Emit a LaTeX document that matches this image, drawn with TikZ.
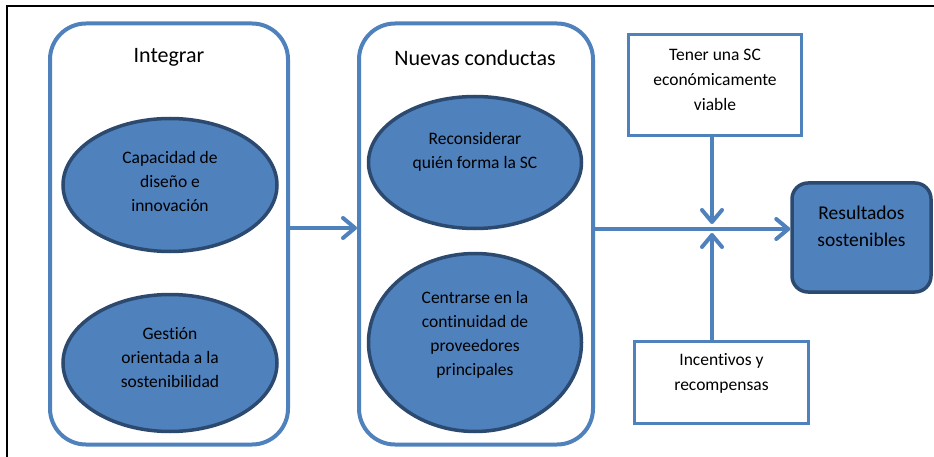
\documentclass[tikz,border=0pt]{standalone}
\usepackage{fontspec}
\setmainfont{Carlito}[Ligatures=NoCommon]
\usetikzlibrary{arrows.meta,shapes.geometric}
\definecolor{accent}{HTML}{4F81BD}
\definecolor{navy}{HTML}{2C4A70}
\begin{document}
\begin{tikzpicture}[
    x=1pt, y=-1pt,
    grp/.style = {draw=accent, line width=4pt, rounded corners=36pt, inner sep=0pt},
    ell/.style = {ellipse, draw=navy, fill=accent, line width=3.5pt, align=center,
                  inner sep=0pt, font=\fontsize{17.5}{24}\selectfont},
    box/.style = {draw=accent, line width=3.5pt, align=center, inner sep=0pt,
                  font=\fontsize{17.5}{25}\selectfont},
    ttl/.style = {font=\fontsize{22}{26}\selectfont},
    flow/.style = {draw=accent, line width=4pt, line cap=round,
                   -{Straight Barb[length=12pt,width=20pt,round]}},
  ]
  \useasboundingbox (0,0) rectangle (934,457);
  \draw[line width=1.5pt] (7,457) -- (7,6) -- (934,6);

  \node[grp, minimum width=238pt, minimum height=421pt] (integ) at (169,234) {};
  \node[ttl] (integ-t) at (169,57) {Integrar};
  \node[ell, minimum width=214pt, minimum height=133pt, text depth=8pt] (cap) at (170,185)
    {Capacidad de\\diseño e\\innovación};
  \node[ell, minimum width=214pt, minimum height=137pt, text depth=12pt] (ges) at (170,363)
    {Gestión\\orientada a la\\sostenibilidad};

  \node[grp, minimum width=234pt, minimum height=421pt] (nuevas) at (476,234) {};
  \node[ttl] (nuevas-t) at (475,58) {Nuevas conductas};
  \node[ell, minimum width=213pt, minimum height=132pt, text depth=25pt] (rec) at (475,162.5)
    {Reconsiderar\\quién forma la SC};
  \node[ell, minimum width=213pt, minimum height=178pt, text depth=18pt] (cen) at (475,342.5)
    {Centrarse en la\\continuidad de\\proveedores\\principales};

  \node[box, minimum width=173pt, minimum height=101pt, text depth=10pt] (viable) at (715,85)
    {Tener una SC\\económicamente\\viable};
  \node[box, minimum width=174pt, minimum height=82pt, text depth=22pt] (incent) at (721.5,382.5)
    {Incentivos y\\recompensas};
  \node[draw=navy, fill=accent, line width=3.5pt, rounded corners=16pt, inner sep=0pt,
        align=center, font=\fontsize{19.5}{27}\selectfont,
        minimum width=139pt, minimum height=109pt, text depth=23pt] (res) at (861.5,237.5)
    {Resultados\\sostenibles};

  \coordinate (x) at (712,229);
  % connectors
  \draw[flow] ([yshift=6pt]integ.east) -- ([yshift=6pt]nuevas.west);
  \draw[flow] (nuevas.east |- x) -- (res.west |- x);
  \draw[flow, shorten >=5pt] (viable.south -| x) -- (x);
  \draw[flow, shorten >=4pt] (incent.north -| x) -- (x);
\end{tikzpicture}
\end{document}
